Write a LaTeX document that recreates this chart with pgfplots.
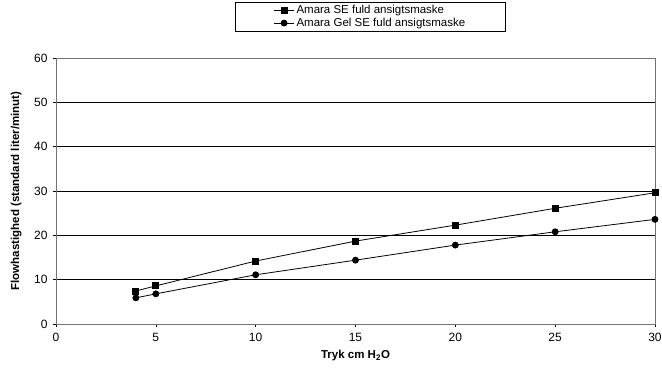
\documentclass[border=0pt]{standalone}
\usepackage{fontspec}
\setmainfont{Liberation Sans}
\usepackage{pgfplots}
\pgfplotsset{compat=1.18}
\begin{document}
\begin{tikzpicture}
\useasboundingbox (-56pt,-44pt) rectangle (606pt,324pt);
\begin{axis}[
  scale only axis,
  width=599pt, height=266pt,
  xmin=0, xmax=30, ymin=0, ymax=60,
  xtick={0,5,10,15,20,25,30},
  ytick={0,10,20,30,40,50,60},
  ymajorgrids,
  grid style={black, line width=0.6pt},
  axis line style={black!55, line width=0.8pt},
  tick style={black, line width=0.6pt},
  tick align=outside,
  major tick length=3pt,
  xtick pos=bottom, ytick pos=left,
  /pgf/number format/assume math mode=true,
  tick label style={font=\fontsize{12}{14}\selectfont},
  xticklabel style={yshift=-3pt},
  yticklabel style={xshift=-2pt},
  xlabel={\textbf{Tryk cm H\textsubscript{2}O}},
  ylabel={\textbf{Flowhastighed (standard liter/minut)}},
  label style={font=\fontsize{11.5}{13}\selectfont},
  xlabel style={at={(axis description cs:0.5,0)}, anchor=north, yshift=-23pt},
  ylabel style={at={(axis description cs:0,0.5)}, anchor=south, yshift=31pt},
  legend style={at={(axis description cs:0.525,1.2105)}, anchor=north,
    draw=black, line width=0.6pt, font=\fontsize{11.5}{13}\selectfont,
    inner xsep=38pt, inner ysep=1pt, row sep=-1pt},
  legend cell align=left,
  legend image code/.code={\draw[#1] (0pt,0pt) -- (20pt,0pt); \draw[#1, mark repeat=2, mark phase=2] plot coordinates {(0pt,0pt) (10pt,0pt) (20pt,0pt)};},
]
\addplot[black, line width=0.8pt, mark=square*, mark size=3pt, mark options={solid}] coordinates {
(4,7.45) (5,8.6) (10,14.2) (15,18.7) (20,22.3) (25,26.1) (30,29.6)};
\addlegendentry{Amara SE fuld ansigtsmaske}
\addplot[black, line width=0.8pt, mark=*, mark size=3pt, mark options={solid}] coordinates {
(4,5.9) (5,6.8) (10,11.1) (15,14.4) (20,17.8) (25,20.8) (30,23.6)};
\addlegendentry{Amara Gel SE fuld ansigtsmaske}
\end{axis}
\end{tikzpicture}
\end{document}
